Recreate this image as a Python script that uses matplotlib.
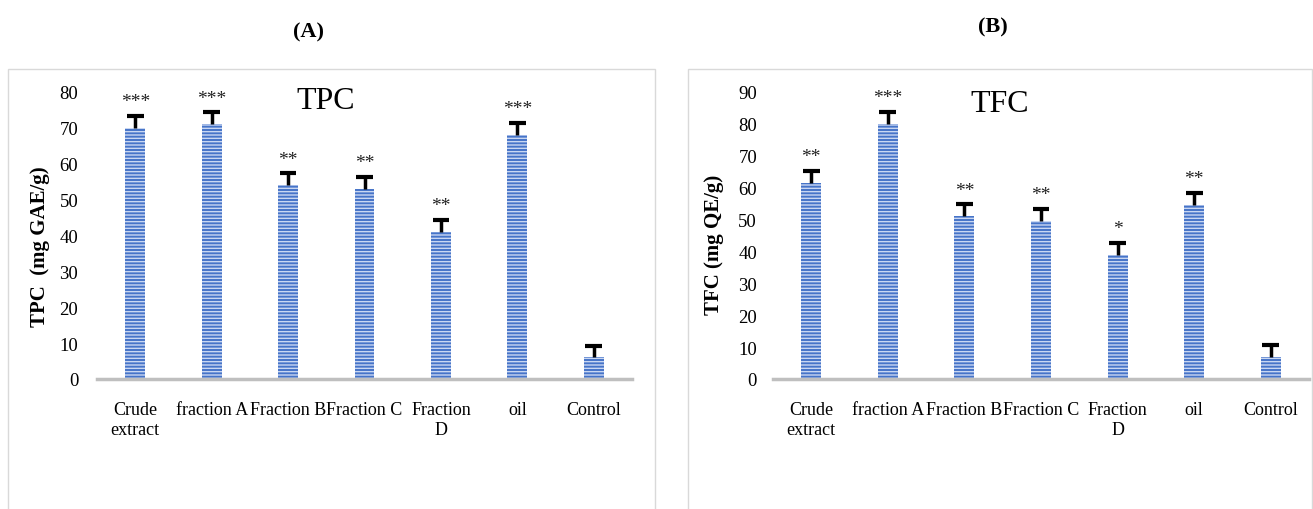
import matplotlib
matplotlib.use("Agg")
import matplotlib.pyplot as plt
from matplotlib.patches import Rectangle

plt.rcParams['font.family'] = ['Liberation Serif', 'DejaVu Serif']
plt.rcParams['hatch.linewidth'] = 1.0

categories = ["Crude\nextract", "fraction A", "Fraction B", "Fraction C", "Fraction\nD", "oil", "Control"]
tpc_values = [70, 71, 54, 53, 41, 68, 6]
tpc_errors = [3.3, 3.3, 3.3, 3.3, 3.3, 3.3, 3.3]
tpc_stars = ["***", "***", "**", "**", "**", "***", ""]
tfc_values = [61.5, 80, 51, 49.5, 39, 54.5, 7]
tfc_errors = [3.8, 3.8, 3.8, 3.8, 3.8, 3.8, 3.8]
tfc_stars = ["**", "***", "**", "**", "*", "**", ""]

W, H = 1313, 510
fig = plt.figure(figsize=(W / 100, H / 100), dpi=100)


def fx(px):
    return px / W


def fy(py):
    return 1 - py / H


# panel boxes
fig.patches.append(Rectangle((fx(8), fy(512)), fx(655 - 8), (512 - 70) / H,
                             transform=fig.transFigure, fill=False,
                             edgecolor='#d9d9d9', linewidth=1.0))
fig.patches.append(Rectangle((fx(688), fy(512)), fx(1312 - 688), (512 - 70) / H,
                             transform=fig.transFigure, fill=False,
                             edgecolor='#d9d9d9', linewidth=1.0))

fig.text(fx(308), fy(32), "(A)", ha='center', va='center', fontsize=16, fontweight='bold')
fig.text(fx(993), fy(27), "(B)", ha='center', va='center', fontsize=16, fontweight='bold')


def panel(rect, values, errors, stars, ymax, title, title_x, title_y, ylabel, ylabel_x,
          ylabel_y, ypad):
    ax = fig.add_axes(rect)
    x = list(range(len(categories)))
    ax.bar(x, values, width=0.26, color='#4674c8', edgecolor='#c9d7f2',
           linewidth=0, hatch='-----', zorder=2)
    tops = [v + e for v, e in zip(values, errors)]
    ax.vlines(x, values, tops, color='black', linewidth=2.5, zorder=3)
    ax.hlines(tops, [xi - 0.11 for xi in x], [xi + 0.11 for xi in x],
              color='black', linewidth=3, zorder=3)
    for xi, t, s in zip(x, tops, stars):
        if s:
            ax.text(xi, t + ymax * 0.02, s, ha='center', va='bottom',
                    fontsize=14, color='#222222')
    ax.set_xlim(-0.5, len(categories) - 0.5)
    ax.set_ylim(0, ymax)
    ax.set_yticks(range(0, ymax + 1, 10))
    ax.set_xticks(x)
    ax.set_xticklabels(categories, fontsize=13, linespacing=1.25)
    ax.tick_params(axis='y', length=0, labelsize=13.5, pad=ypad)
    ax.tick_params(axis='x', length=0, pad=16)
    for side in ['top', 'right', 'left']:
        ax.spines[side].set_visible(False)
    ax.spines['bottom'].set_color('#bfbfbf')
    ax.spines['bottom'].set_linewidth(2.5)
    fig.text(title_x, title_y, title, ha='center', va='center', fontsize=23)
    fig.text(ylabel_x, ylabel_y, ylabel, rotation=90, ha='center', va='center',
             fontsize=15, fontweight='bold')
    return ax


panel([fx(97), fy(380), fx(535), (380 - 93) / H], tpc_values, tpc_errors, tpc_stars,
      80, "TPC", fx(326), fy(102), "TPC  (mg GAE/g)", fx(40), fy(247), 13.5)
panel([fx(773), fy(380), fx(536), (380 - 93) / H], tfc_values, tfc_errors, tfc_stars,
      90, "TFC", fx(1000), fy(105), "TFC (mg QE/g)", fx(714), fy(245), 11.5)

fig.savefig("out.png", dpi=100)
